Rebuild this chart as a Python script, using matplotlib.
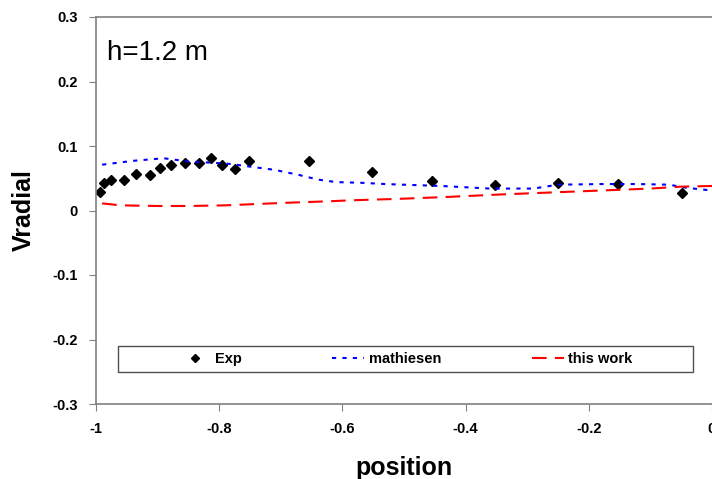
import numpy as np
import matplotlib.pyplot as plt
from matplotlib.patches import Rectangle

plt.rcParams['font.family'] = ['Liberation Sans', 'DejaVu Sans']

# experimental points
exp_x = [-0.994, -0.987, -0.976, -0.954, -0.935, -0.913, -0.896, -0.878, -0.855, -0.833,
         -0.814, -0.795, -0.774, -0.751, -0.655, -0.552, -0.455, -0.352, -0.250, -0.153, -0.048]
exp_y = [0.029, 0.042, 0.047, 0.048, 0.057, 0.055, 0.066, 0.071, 0.073, 0.074,
         0.081, 0.071, 0.065, 0.077, 0.076, 0.060, 0.045, 0.039, 0.042, 0.041, 0.027]

# mathiesen model
math_x = [-0.99, -0.94, -0.89, -0.85, -0.81, -0.78, -0.75, -0.71, -0.67, -0.64, -0.61, -0.57,
          -0.53, -0.50, -0.44, -0.36, -0.29, -0.25, -0.18, -0.12, -0.07, -0.04, 0.0]
math_y = [0.071, 0.077, 0.081, 0.076, 0.074, 0.072, 0.068, 0.063, 0.055, 0.048, 0.044, 0.043,
          0.041, 0.040, 0.038, 0.034, 0.034, 0.040, 0.041, 0.041, 0.040, 0.035, 0.031]

# this work
tw_x = [-0.99, -0.96, -0.90, -0.85, -0.79, -0.74, -0.69, -0.63, -0.58, -0.51, -0.43, -0.34,
        -0.26, -0.18, -0.10, -0.05, 0.0]
tw_y = [0.011, 0.008, 0.007, 0.007, 0.008, 0.010, 0.012, 0.014, 0.016, 0.018, 0.021, 0.025,
        0.028, 0.031, 0.034, 0.037, 0.038]

xticks = [-1, -0.8, -0.6, -0.4, -0.2, 0]
xtick_labels = ['-1', '-0.8', '-0.6', '-0.4', '-0.2', '0']
yticks = [-0.3, -0.2, -0.1, 0, 0.1, 0.2, 0.3]
ytick_labels = ['-0.3', '-0.2', '-0.1', '0', '0.1', '0.2', '0.3']

fig = plt.figure(figsize=(7.12, 4.79), dpi=100)
ax = fig.add_axes([96 / 712, 1 - 404 / 479, 1 - 96 / 712, 387 / 479])

ax.plot(exp_x, exp_y, linestyle='none', marker='D', markersize=5.5, color='black', label='Exp')
ax.plot(math_x, math_y, color='blue', linewidth=1.5, dashes=(2, 3), label='mathiesen')
ax.plot(tw_x, tw_y, color='red', linewidth=1.5, dashes=(7, 4), label='this work')

ax.set_xlim(-1, 0)
ax.set_ylim(-0.3, 0.3)
ax.set_xticks(xticks)
ax.set_xticklabels(xtick_labels, fontweight='bold', fontsize=10.5)
ax.set_yticks(yticks)
ax.set_yticklabels(ytick_labels, fontweight='bold', fontsize=10.5)
ax.tick_params(direction='out', length=5, color='#808080', pad=8)

for s in ['left', 'bottom', 'top']:
    ax.spines[s].set_color('#808080')
    ax.spines[s].set_linewidth(1.2)
ax.spines['right'].set_visible(False)

ax.set_xlabel('position', fontweight='bold', fontsize=18, labelpad=14)
ax.set_ylabel('Vradial', fontweight='bold', fontsize=18, labelpad=12)

ax.text(0.018, 0.94, 'h=1.2 m', transform=ax.transAxes, fontsize=20, va='top', ha='left')

# legend box drawn separately, entries centred inside it
ax.add_patch(Rectangle((0.036, 0.083), 0.933, 0.067, transform=ax.transAxes,
                       facecolor='white', edgecolor='#505050', linewidth=1.0, zorder=4))
leg = ax.legend(loc='center', bbox_to_anchor=(0.5024, 0.116), ncol=3, frameon=False,
                prop={'weight': 'bold', 'size': 10.5}, handlelength=2.2, handletextpad=0.3,
                columnspacing=6.2, markerscale=0.8)
leg.set_zorder(5)

fig.savefig('out.png', dpi=100)
